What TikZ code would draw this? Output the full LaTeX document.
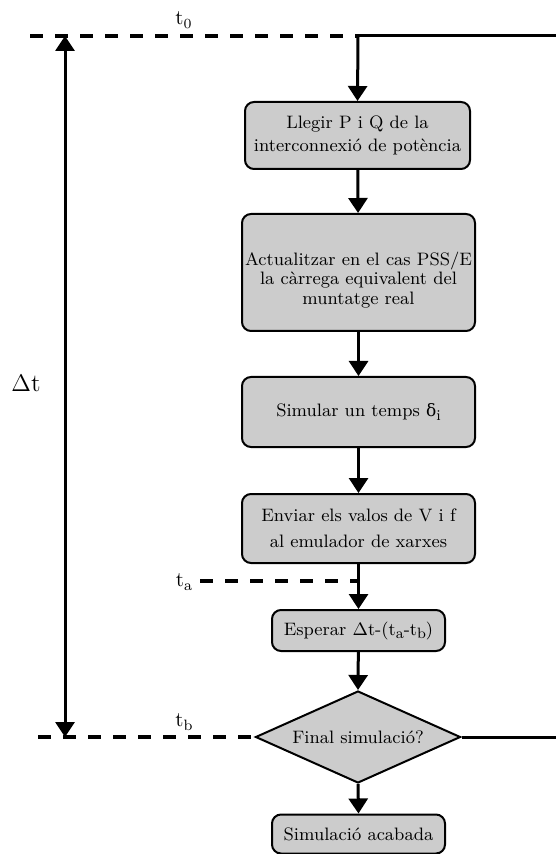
\documentclass[tikz,border=0pt]{standalone}
\usepackage{fontspec}
\newfontfamily\grkfont{DejaVu Serif}
\usetikzlibrary{arrows.meta,shapes.geometric}
\definecolor{boxgray}{HTML}{CCCCCC}
\newcommand{\lowsub}[1]{\raisebox{-0.45ex}{\fontsize{7.5}{8}\selectfont #1}}
\tikzset{
  flowbox/.style={draw=black, line width=1pt, fill=boxgray, rounded corners=4.5pt, inner sep=0pt, align=center, font=\fontsize{9}{11.5}\selectfont},
  decbox/.style={draw=black, line width=1pt, fill=boxgray, diamond, aspect=2.23, inner sep=0pt, align=center, font=\fontsize{9}{11.5}\selectfont, minimum width=102.5pt, minimum height=46pt},
  flowarrow/.style={line width=1.5pt, -{Triangle[length=7.5pt,width=9.5pt]}},
  solidline/.style={line width=1.5pt},
  timeline/.style={line width=1.6pt, dash pattern=on 6.5pt off 6pt},
  lbl/.style={inner sep=0pt, font=\fontsize{10.5}{12}\selectfont}
}
\begin{document}
\begin{tikzpicture}[x=0.5pt,y=-0.5pt]
\useasboundingbox (0,0) rectangle (556,854);
% nodes
\node[flowbox, minimum width=112.5pt, minimum height=33.5pt] (b1) at (357.5,135.5) {Llegir P i Q de la\\interconnexió de potència};
\node[flowbox, minimum width=116.5pt, minimum height=58.5pt, font=\fontsize{9}{9.7}\selectfont] (b2) at (358.5,272.5) {\rule{0pt}{14pt}Actualitzar en el cas PSS/E\\la càrrega equivalent del\\muntatge real};
\node[flowbox, minimum width=116.5pt, minimum height=35pt] (b3) at (358.5,412) {Simular un temps {\grkfont\fontsize{8.5}{10}\selectfont δ}\lowsub{i}};
\node[flowbox, minimum width=116.5pt, minimum height=34.5pt, font=\fontsize{9}{13}\selectfont] (b4) at (358.5,528.5) {Enviar els valos de V i f\\al emulador de xarxes};
\node[flowbox, minimum width=86.5pt, minimum height=20.5pt] (b5) at (358.5,630.5) {Esperar $\Delta$t-(t\lowsub{a}-t\lowsub{b})};
\node[decbox] (d1) at (358,737) {Final simulació?};
\node[flowbox, minimum width=86.5pt, minimum height=19.5pt] (b6) at (358.5,834) {Simulació acabada};
% coordinates
\coordinate (t0l) at (30,36);
\coordinate (t0m) at (358,36);
\coordinate (t0r) at (556,36);
\coordinate (tal) at (200,581);
\coordinate (tam) at (358,581);
\coordinate (tbl) at (38,737);
\coordinate (tbr) at (556,737);
\coordinate (dtop) at (65,36);
\coordinate (dbot) at (65,737);
% labels
\node[lbl] (lt0) at (184,20) {t$_0$};
\node[lbl] (lta) at (184,582) {t\lowsub{a}};
\node[lbl] (ltb) at (184,722) {t\lowsub{b}};
\node[inner sep=0pt, font=\fontsize{12.5}{15}\selectfont] (ldt) at (26,383) {$\Delta$t};
% time lines
\draw[timeline] (t0l) -- (t0m);
\draw[timeline] (tal) -- (tam);
\draw[timeline] (tbl) -- (d1.west);
% loop lines
\draw[solidline] (t0m) -- (t0r);
\draw[solidline] (d1.east) -- (tbr);
% delta t arrow
\draw[line width=1.5pt, {Triangle[length=7.5pt,width=9.5pt]}-{Triangle[length=7.5pt,width=9.5pt]}] (dtop) -- (dbot);
% flow arrows
\draw[flowarrow] (t0m) -- (b1.north);
\draw[flowarrow] (b1) -- (b2);
\draw[flowarrow] (b2) -- (b3);
\draw[flowarrow] (b3) -- (b4);
\draw[flowarrow] (b4) -- (b5);
\draw[flowarrow] (b5) -- (d1.north);
\draw[flowarrow] (d1.south) -- (b6.north);
\end{tikzpicture}
\end{document}
